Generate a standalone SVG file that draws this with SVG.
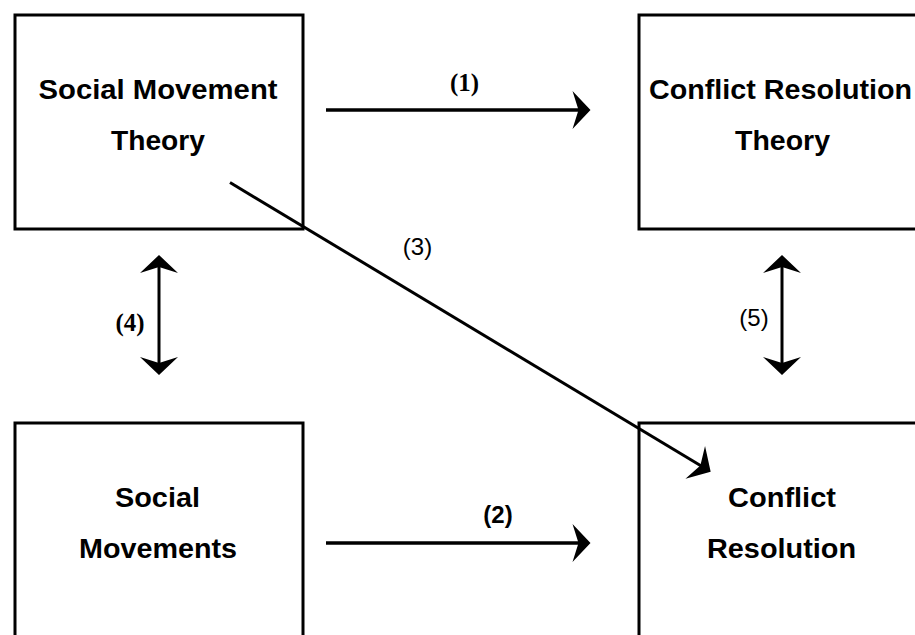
<svg xmlns="http://www.w3.org/2000/svg" width="915" height="635" viewBox="0 0 915 635">
<style>
.box{fill:#fff;stroke:#000;stroke-width:3}
.t{font-family:"Liberation Sans",Arial,sans-serif;font-weight:bold;font-size:27px;fill:#000;text-anchor:middle}
.lbs{font-family:"Liberation Serif","Times New Roman",serif;font-weight:bold;font-size:26px;fill:#000;text-anchor:middle}
.lss{font-family:"Liberation Sans",Arial,sans-serif;font-size:24px;fill:#000;text-anchor:middle}
.c{stroke:#000;stroke-width:3.5;fill:none}
.d{stroke:#000;stroke-width:3;fill:none}
</style>
<defs>
<marker id="ah" viewBox="-30 -20 32 40" refX="-10" refY="0" markerWidth="32" markerHeight="40" markerUnits="userSpaceOnUse" orient="auto-start-reverse">
<path d="M0,0 L-18,-19 L-12,0 L-18,19 Z" fill="#000"/>
</marker>
</defs>
<g id="n1">
<rect class="box" x="15" y="15" width="288" height="214"/>
<text class="t" x="158" y="99" textLength="239" lengthAdjust="spacingAndGlyphs">Social Movement</text>
<text class="t" x="158" y="150" textLength="94" lengthAdjust="spacingAndGlyphs">Theory</text>
</g>
<g id="n2">
<rect class="box" x="639" y="15" width="290" height="214"/>
<text class="t" x="780.5" y="99" textLength="263" lengthAdjust="spacingAndGlyphs">Conflict Resolution</text>
<text class="t" x="782.5" y="150" textLength="95" lengthAdjust="spacingAndGlyphs">Theory</text>
</g>
<g id="n3">
<rect class="box" x="15" y="423" width="288" height="260"/>
<text class="t" x="157.5" y="507" textLength="85" lengthAdjust="spacingAndGlyphs">Social</text>
<text class="t" x="158" y="558" textLength="158" lengthAdjust="spacingAndGlyphs">Movements</text>
</g>
<g id="n4">
<rect class="box" x="639" y="423" width="290" height="260"/>
<text class="t" x="782" y="507" textLength="108" lengthAdjust="spacingAndGlyphs">Conflict</text>
<text class="t" x="781.5" y="558" textLength="149" lengthAdjust="spacingAndGlyphs">Resolution</text>
</g>
<g id="connectors">
<line class="c" x1="326" y1="110" x2="580.5" y2="110" marker-end="url(#ah)"/>
<line class="c" x1="326" y1="543" x2="580.5" y2="543" marker-end="url(#ah)"/>
<line class="d" x1="230" y1="182.5" x2="702.1" y2="466.5" marker-end="url(#ah)"/>
<line class="d" x1="159" y1="265" x2="159" y2="365" marker-start="url(#ah)" marker-end="url(#ah)"/>
<line class="d" x1="782" y1="265" x2="782" y2="365" marker-start="url(#ah)" marker-end="url(#ah)"/>
<text class="lbs" x="464.5" y="91" textLength="29" lengthAdjust="spacingAndGlyphs">(1)</text>
<text class="lss" x="498" y="523" font-weight="bold">(2)</text>
<text class="lss" x="417.5" y="255">(3)</text>
<text class="lbs" x="130" y="331" textLength="29" lengthAdjust="spacingAndGlyphs">(4)</text>
<text class="lss" x="754" y="326">(5)</text>
</g>
</svg>
